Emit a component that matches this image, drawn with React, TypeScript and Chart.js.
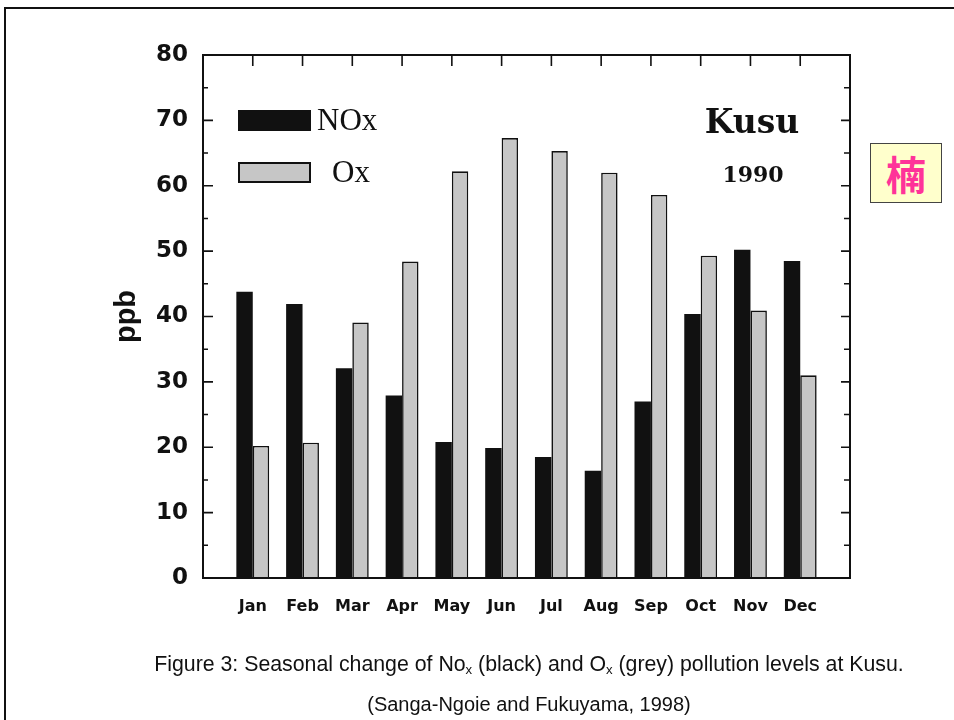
import React, { useEffect, useRef } from "react";
import { Chart, registerables } from "chart.js";

Chart.register(...registerables);

const months = ["Jan", "Feb", "Mar", "Apr", "May", "Jun", "Jul", "Aug", "Sep", "Oct", "Nov", "Dec"];
const noxValues = [43.8, 41.9, 32.1, 27.9, 20.8, 19.9, 18.5, 16.4, 27.0, 40.4, 50.2, 48.5];
const oxValues = [20.2, 20.7, 39.1, 48.4, 62.2, 67.3, 65.3, 62.0, 58.6, 49.3, 40.9, 31.0];
const yTickValues = [0, 10, 20, 30, 40, 50, 60, 70, 80];
const seriesNames = ["NOx", "Ox"];
const stationName = "Kusu";
const yearLabel = "1990";
const yAxisTitle = "ppb";

const INK = "#111111";
const GREY = "#c6c6c6";

const framePlugin = {
  id: "frameTicks",
  afterDatasetsDraw(chart: any) {
    const { ctx, chartArea } = chart;
    const { left, right, top, bottom } = chartArea;
    const ys = chart.scales.y;
    const xs = chart.scales.x;
    ctx.save();
    ctx.strokeStyle = INK;
    ctx.lineWidth = 2;
    ctx.strokeRect(left, top, right - left, bottom - top);
    ctx.lineWidth = 1.6;
    ctx.beginPath();
    for (let v = 0; v <= 80; v += 5) {
      const py = ys.getPixelForValue(v);
      const major = v % 10 === 0;
      ctx.moveTo(left, py);
      ctx.lineTo(left + (major ? 10 : 5), py);
      ctx.moveTo(right, py);
      ctx.lineTo(right - (major ? 9 : 6), py);
    }
    for (let i = 1; i <= months.length; i++) {
      const px = xs.getPixelForValue(i);
      ctx.moveTo(px, top);
      ctx.lineTo(px, top + 11);
    }
    ctx.stroke();

    // legend
    const bx = left + 35;
    const bw = 73;
    const bh = 21;
    const y1 = top + 55;
    const y2 = top + 107;
    ctx.fillStyle = INK;
    ctx.fillRect(bx, y1, bw, bh);
    ctx.fillStyle = GREY;
    ctx.fillRect(bx, y2, bw, bh);
    ctx.lineWidth = 2;
    ctx.strokeStyle = INK;
    ctx.strokeRect(bx + 1, y2 + 1, bw - 2, bh - 2);
    ctx.fillStyle = INK;
    ctx.font = "31px 'Liberation Serif', 'Times New Roman', serif";
    ctx.textBaseline = "middle";
    ctx.textAlign = "left";
    ctx.fillText(chart.data.datasets[0].label, bx + bw + 6, y1 + bh / 2 + 1);
    ctx.fillText(chart.data.datasets[1].label, bx + bw + 21, y2 + bh / 2 + 1);

    // station labels
    ctx.textAlign = "center";
    ctx.font = "bold 33px 'DejaVu Serif', serif";
    ctx.fillText(stationName, right - 98, top + 69);
    ctx.font = "bold 22px 'DejaVu Serif', serif";
    ctx.fillText(yearLabel, right - 97, top + 121);
    ctx.restore();
  },
};

function ChartCanvas() {
  const ref = useRef<HTMLCanvasElement | null>(null);
  useEffect(() => {
    if (!ref.current) return;
    const labels = ["", ...months, ""];
    const chart = new Chart(ref.current, {
      type: "bar",
      data: {
        labels,
        datasets: [
          {
            label: seriesNames[0],
            data: [null, ...noxValues, null],
            backgroundColor: INK,
            borderWidth: 0,
            categoryPercentage: 0.66,
            barPercentage: 1,
          },
          {
            label: seriesNames[1],
            data: [null, ...oxValues, null],
            backgroundColor: GREY,
            borderColor: INK,
            borderWidth: 1.6,
            categoryPercentage: 0.66,
            barPercentage: 1,
          },
        ],
      },
      options: {
        responsive: false,
        animation: false,
        devicePixelRatio: 1,
        layout: { padding: { left: 0, top: 55, right: 104, bottom: 102 } },
        plugins: { legend: { display: false }, tooltip: { enabled: false }, title: { display: false } },
        scales: {
          x: {
            type: "category",
            offset: false,
            grid: { display: false, drawTicks: false },
            border: { display: false },
            ticks: {
              autoSkip: false,
              maxRotation: 0,
              minRotation: 0,
              padding: 19,
              color: INK,
              font: { family: "'DejaVu Sans', sans-serif", size: 16, weight: "bold" },
            },
            afterFit(scale: any) {
              scale.height = 40;
            },
          },
          y: {
            min: 0,
            max: 80,
            grid: { display: false, drawTicks: false },
            border: { display: false },
            afterBuildTicks(scale: any) {
              scale.ticks = yTickValues.map((v) => ({ value: v }));
            },
            ticks: {
              padding: 15,
              color: INK,
              font: { family: "'DejaVu Sans', sans-serif", size: 23, weight: "bold" },
            },
            title: {
              display: true,
              text: yAxisTitle,
              color: INK,
              padding: { top: 110, bottom: 0 },
              font: { family: "'Liberation Sans', Arial, sans-serif", size: 29, weight: "bold" },
            },
            afterFit(scale: any) {
              scale.width = 203;
            },
          },
        },
      },
      plugins: [framePlugin],
    });
    return () => chart.destroy();
  }, []);
  return <canvas ref={ref} width={954} height={720} style={{ position: "absolute", left: 0, top: 0 }} />;
}

export default function App() {
  const subStyle: React.CSSProperties = { fontSize: "0.62em", verticalAlign: "-0.25em" };
  return (
    <div style={{ position: "absolute", left: 0, top: 0, width: 954, height: 720, overflow: "hidden", background: "#fff" }}>
      <div
        style={{
          position: "absolute",
          left: 4,
          top: 7,
          width: 1000,
          height: 800,
          border: "2px solid #111",
          boxSizing: "border-box",
        }}
      />
      <ChartCanvas />
      <div
        style={{
          position: "absolute",
          left: 870,
          top: 143,
          width: 72,
          height: 60,
          background: "#ffffcc",
          border: "1px solid #444",
          boxSizing: "border-box",
          display: "flex",
          alignItems: "center",
          justifyContent: "center",
          color: "#ff3399",
          fontFamily: "'Noto Sans CJK SC', sans-serif",
          fontWeight: "bold",
          fontSize: 40,
          lineHeight: 1,
        }}
      >
        楠
      </div>
      <div
        style={{
          position: "absolute",
          left: 0,
          width: 1058,
          top: 652,
          textAlign: "center",
          fontFamily: "'Liberation Sans', Arial, sans-serif",
          fontSize: 21.3,
          lineHeight: "25px",
          color: "#111",
          whiteSpace: "nowrap",
        }}
      >
        Figure 3: Seasonal change of No<span style={subStyle}>x</span> (black) and O<span style={subStyle}>x</span> (grey) pollution levels at Kusu.
      </div>
      <div
        style={{
          position: "absolute",
          left: 0,
          width: 1058,
          top: 692,
          textAlign: "center",
          fontFamily: "'Liberation Sans', Arial, sans-serif",
          fontSize: 20,
          lineHeight: "24px",
          color: "#111",
          whiteSpace: "nowrap",
        }}
      >
        (Sanga-Ngoie and Fukuyama, 1998)
      </div>
    </div>
  );
}
